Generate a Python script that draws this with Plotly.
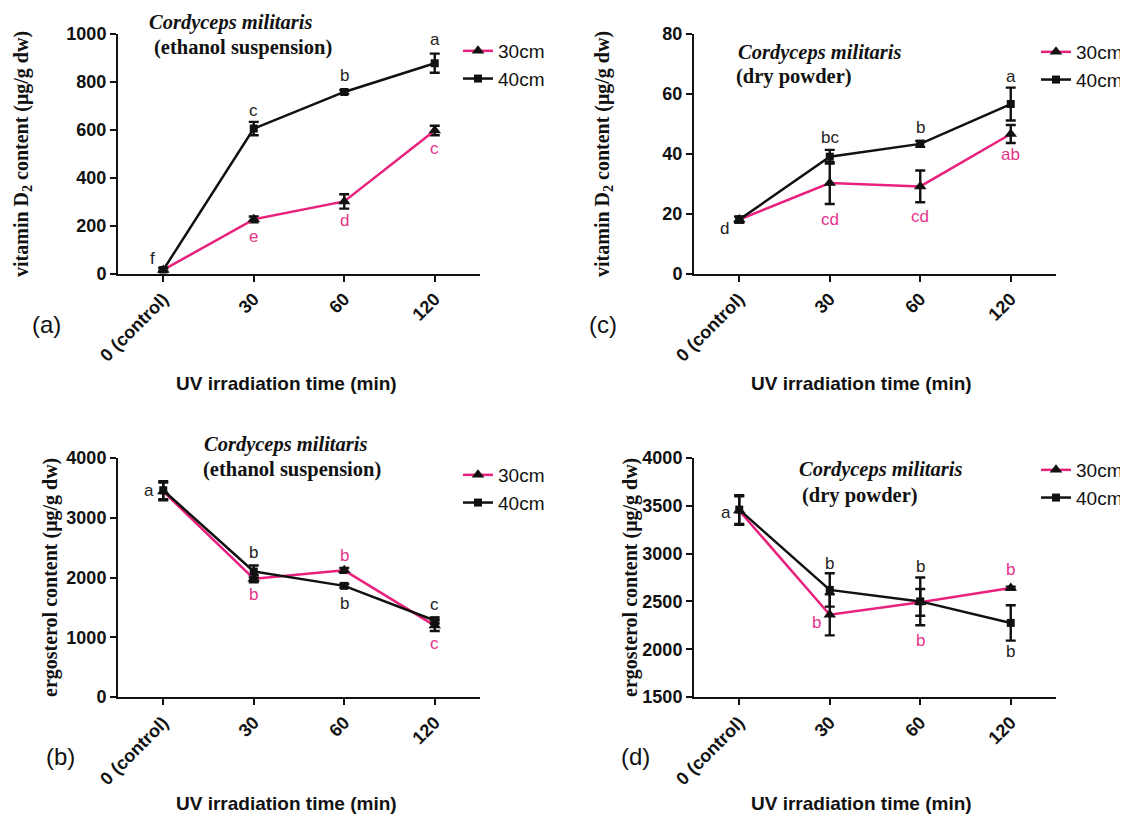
import plotly.graph_objects as go

# ---------------- data ----------------
categories = ["0 (control)", "30", "60", "120"]
series_names = ["30cm", "40cm"]

# (a) vitamin D2, ethanol suspension
a_30 = [15, 226, 301, 597]
a_30_err = [8, 12, 30, 20]
a_40 = [15, 605, 758, 878]
a_40_err = [8, 28, 8, 40]

# (c) vitamin D2, dry powder
c_30 = [18, 30.2, 29.1, 46.6]
c_30_err = [1, 7, 5.3, 3]
c_40 = [18, 39, 43.3, 56.6]
c_40_err = [1, 2.3, 1, 5.5]

# (b) ergosterol, ethanol suspension
b_30 = [3440, 1980, 2120, 1195]
b_30_err = [150, 60, 40, 90]
b_40 = [3460, 2100, 1860, 1280]
b_40_err = [150, 100, 30, 50]

# (d) ergosterol, dry powder
d_30 = [3450, 2360, 2490, 2640]
d_30_err = [150, 215, 140, 15]
d_40 = [3460, 2620, 2500, 2275]
d_40_err = [150, 175, 250, 185]

# significance letters: (category index, series, letter)
a_letters = [(0, "40cm", "f"), (1, "40cm", "c"), (2, "40cm", "b"), (3, "40cm", "a"),
             (1, "30cm", "e"), (2, "30cm", "d"), (3, "30cm", "c")]
c_letters = [(0, "40cm", "d"), (1, "40cm", "bc"), (2, "40cm", "b"), (3, "40cm", "a"),
             (1, "30cm", "cd"), (2, "30cm", "cd"), (3, "30cm", "ab")]
b_letters = [(0, "40cm", "a"), (1, "40cm", "b"), (1, "30cm", "b"), (2, "30cm", "b"),
             (2, "40cm", "b"), (3, "40cm", "c"), (3, "30cm", "c")]
d_letters = [(0, "40cm", "a"), (1, "40cm", "b"), (1, "30cm", "b"), (2, "40cm", "b"),
             (2, "30cm", "b"), (3, "30cm", "b"), (3, "40cm", "b")]

# label offsets (px) - style only
a_offsets = [(-11, 11), (0, 18), (0, 16), (0, 24), (0, -17), (0, -19), (0, -18)]
c_offsets = [(-15, -9), (0, 19), (0, 16), (0, 28), (0, -36), (0, -30), (0, -21)]
b_offsets = [(-14, 0), (0, 19), (0, -16), (0, 15), (0, -18), (0, 16), (0, -18)]
d_offsets = [(-13, -3), (0, 26), (-13, -8), (0, 35), (0, -38), (0, 19), (0, -29)]

# ---------------- style ----------------
OFF = 8                      # page body margin
W, H = 1128 - OFF, 815 - OFF
PINK = "#E8217C"
PINK_TXT = "#E5338A"
BLACK = "#111111"
SANS = "Arial, Liberation Sans, sans-serif"
SERIF = "Times New Roman, Liberation Serif, serif"


def px(x):
    return (x - OFF) / W


def py(y):
    return 1 - (y - OFF) / H


left_dom = [px(118), px(480)]
right_dom = [px(694), px(1056)]
top_dom = [py(273.5), py(34)]
bot_dom = [py(697), py(458)]

fig = go.Figure()

panels = [
    ("a", "x", "y", a_30, a_30_err, a_40, a_40_err, a_letters, a_offsets, "legend"),
    ("c", "x2", "y2", c_30, c_30_err, c_40, c_40_err, c_letters, c_offsets, "legend2"),
    ("b", "x3", "y3", b_30, b_30_err, b_40, b_40_err, b_letters, b_offsets, "legend3"),
    ("d", "x4", "y4", d_30, d_30_err, d_40, d_40_err, d_letters, d_offsets, "legend4"),
]

annotations = []
for key, xa, ya, v30, e30, v40, e40, letters, offsets, leg in panels:
    fig.add_trace(go.Scatter(
        x=categories, y=v30, name=series_names[0], xaxis=xa, yaxis=ya,
        mode="lines+markers", legend=leg,
        line=dict(color=PINK, width=2.5),
        marker=dict(symbol="triangle-up", size=11, color=BLACK),
        error_y=dict(type="data", array=e30, visible=True, color=BLACK,
                     thickness=2.4, width=5),
    ))
    fig.add_trace(go.Scatter(
        x=categories, y=v40, name=series_names[1], xaxis=xa, yaxis=ya,
        mode="lines+markers", legend=leg,
        line=dict(color=BLACK, width=2.5),
        marker=dict(symbol="square", size=8, color=BLACK),
        error_y=dict(type="data", array=e40, visible=True, color=BLACK,
                     thickness=2.4, width=5),
    ))
    for (ci, s, txt), (dx, dy) in zip(letters, offsets):
        vals = v30 if s == "30cm" else v40
        annotations.append(dict(
            x=ci, y=vals[ci], xref=xa, yref=ya, text=txt,
            showarrow=False, xshift=dx, yshift=dy,
            font=dict(family=SANS, size=17, color=PINK_TXT if s == "30cm" else "#222222"),
        ))

axis_common = dict(
    showline=True, linecolor=BLACK, linewidth=2, showgrid=False, zeroline=False,
    ticks="outside", ticklen=6, tickwidth=2, tickcolor=BLACK, automargin=False,
    tickfont=dict(family=SANS, size=18, color="#111111", weight="bold"),
)
xcommon = dict(axis_common, type="category", range=[-0.5, 3.5], tickangle=-45)

fig.update_layout(
    xaxis=dict(xcommon, domain=left_dom, anchor="y"),
    yaxis=dict(axis_common, domain=top_dom, anchor="x", range=[0, 1000], dtick=200),
    xaxis2=dict(xcommon, domain=right_dom, anchor="y2"),
    yaxis2=dict(axis_common, domain=top_dom, anchor="x2", range=[0, 80], dtick=20),
    xaxis3=dict(xcommon, domain=left_dom, anchor="y3"),
    yaxis3=dict(axis_common, domain=bot_dom, anchor="x3", range=[0, 4000], dtick=1000),
    xaxis4=dict(xcommon, domain=right_dom, anchor="y4"),
    yaxis4=dict(axis_common, domain=bot_dom, anchor="x4", range=[1500, 4000], dtick=500),
)

leg_common = dict(font=dict(family=SANS, size=19, color="#111111"),
                  bgcolor="rgba(0,0,0,0)", xanchor="left", yanchor="top",
                  tracegroupgap=0, itemwidth=30)
fig.update_layout(
    legend=dict(leg_common, x=px(458), y=py(32)),
    legend2=dict(leg_common, x=px(1036), y=py(33)),
    legend3=dict(leg_common, x=px(458), y=py(456)),
    legend4=dict(leg_common, x=px(1036), y=py(451)),
)


def ann(x, y, text, size, family, angle=0, color="#111111"):
    annotations.append(dict(x=px(x), y=py(y), xref="paper", yref="paper", text=text,
                            showarrow=False, textangle=angle, xanchor="center",
                            yanchor="middle", font=dict(family=family, size=size, color=color)))


# panel titles
TS = 20.5
ann(231, 22, "<b><i>Cordyceps militaris</i></b>", TS, SERIF)
ann(243, 48, "<b>(ethanol suspension)</b>", TS, SERIF)
ann(819, 53, "<b><i>Cordyceps militaris</i></b>", TS, SERIF)
ann(794, 77, "<b>(dry powder)</b>", TS, SERIF)
ann(285, 444, "<b><i>Cordyceps militaris</i></b>", TS, SERIF)
ann(292, 469, "<b>(ethanol suspension)</b>", TS, SERIF)
ann(880, 470, "<b><i>Cordyceps militaris</i></b>", TS, SERIF)
ann(860, 495, "<b>(dry powder)</b>", TS, SERIF)

# panel letters
ann(46, 324, "(a)", 24, SANS)
ann(603, 324, "(c)", 24, SANS)
ann(60, 756, "(b)", 24, SANS)
ann(635, 756, "(d)", 24, SANS)

# x axis titles
for cx, cy in [(286, 383), (861, 383), (286, 803), (861, 803)]:
    ann(cx, cy, "<b>UV irradiation time (min)</b>", 19, SANS)

# y axis titles
ann(22, 154, "<b>vitamin D<sub>2</sub> content (μg/g dw)</b>", 20, SERIF, -90)
ann(603, 154, "<b>vitamin D<sub>2</sub> content (μg/g dw)</b>", 20, SERIF, -90)
ann(50, 578, "<b>ergosterol content (μg/g dw)</b>", 20, SERIF, -90)
ann(630, 578, "<b>ergosterol content (μg/g dw)</b>", 20, SERIF, -90)

fig.update_layout(
    annotations=annotations,
    width=W, height=H, autosize=False,
    margin=dict(l=0, r=0, t=0, b=0, autoexpand=False),
    paper_bgcolor="white", plot_bgcolor="white",
)

fig.write_html("out.html")
